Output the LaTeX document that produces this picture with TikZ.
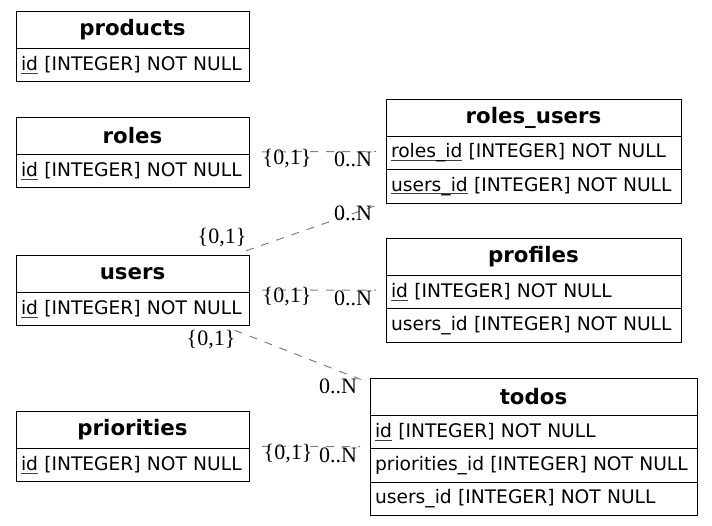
\documentclass[tikz,border=0pt]{standalone}
\usepackage{fontspec}
\setmainfont{DejaVu Sans}
\newfontfamily\cardfont{Liberation Serif}
\usepackage{xcolor}
\usepackage{tikz}
\usetikzlibrary{positioning,fit}

\newcommand{\pk}[1]{\setbox0\hbox{#1}\rlap{\color{darkgray}\rule[-3pt]{\wd0}{0.8pt}}\box0\relax}

\begin{document}
\begin{tikzpicture}[x=1pt,y=-1pt,
  thead/.style={rectangle,draw,font=\fontsize{21.3}{25}\selectfont\bfseries,align=center,minimum height=37pt,inner xsep=5pt,inner ysep=0pt,outer sep=0pt},
  trow/.style={rectangle,draw,font=\fontsize{18.67}{22}\selectfont,align=left,minimum height=33.5pt,inner xsep=5pt,inner ysep=0pt,outer sep=0pt},
  tblw/.style={text width=#1},
  tbl/.style={inner sep=0pt,outer sep=0pt},
  card/.style={font=\cardfont\fontsize{22}{26}\selectfont,inner sep=0pt},
  rel/.style={draw=gray,line width=1pt,dash pattern=on 8pt off 8pt,shorten <=13pt,shorten >=10pt}
]
\useasboundingbox (0,0) rectangle (712,525);

\node[thead, tblw=223pt, anchor=north west] (products-h) at (16,11) {products};
\node[trow, tblw=223pt, below=0pt of products-h] (products-1) {\pk{id} [INTEGER] NOT NULL};
\node[tbl, fit=(products-h)(products-1)] (products) {};

\node[thead, tblw=223pt, anchor=north west] (roles-h) at (16,117) {roles};
\node[trow, tblw=223pt, below=0pt of roles-h] (roles-1) {\pk{id} [INTEGER] NOT NULL};
\node[tbl, fit=(roles-h)(roles-1)] (roles) {};

\node[thead, tblw=223pt, anchor=north west] (users-h) at (16,255) {users};
\node[trow, tblw=223pt, below=0pt of users-h] (users-1) {\pk{id} [INTEGER] NOT NULL};
\node[tbl, fit=(users-h)(users-1)] (users) {};

\node[thead, tblw=223pt, anchor=north west] (priorities-h) at (16,411) {priorities};
\node[trow, tblw=223pt, below=0pt of priorities-h] (priorities-1) {\pk{id} [INTEGER] NOT NULL};
\node[tbl, fit=(priorities-h)(priorities-1)] (priorities) {};

\node[thead, tblw=285pt, anchor=north west] (roles_users-h) at (386,99) {roles\_users};
\node[trow, tblw=285pt, below=0pt of roles_users-h] (roles_users-1) {\pk{roles\_id} [INTEGER] NOT NULL};
\node[trow, tblw=285pt, below=0pt of roles_users-1] (roles_users-2) {\pk{users\_id} [INTEGER] NOT NULL};
\node[tbl, fit=(roles_users-h)(roles_users-2)] (roles_users) {};

\node[thead, tblw=285pt, anchor=north west] (profiles-h) at (386,238) {profiles};
\node[trow, tblw=285pt, below=0pt of profiles-h] (profiles-1) {\pk{id} [INTEGER] NOT NULL};
\node[trow, tblw=285pt, below=0pt of profiles-1] (profiles-2) {users\_id [INTEGER] NOT NULL};
\node[tbl, fit=(profiles-h)(profiles-2)] (profiles) {};

\node[thead, tblw=317pt, anchor=north west] (todos-h) at (370,378) {todos};
\node[trow, tblw=317pt, below=0pt of todos-h] (todos-1) {\pk{id} [INTEGER] NOT NULL};
\node[trow, tblw=317pt, below=0pt of todos-1] (todos-2) {priorities\_id [INTEGER] NOT NULL};
\node[trow, tblw=317pt, below=0pt of todos-2] (todos-3) {users\_id [INTEGER] NOT NULL};
\node[tbl, fit=(todos-h)(todos-3)] (todos) {};

\draw[rel] (roles) -- (roles_users);
\draw[rel] (users) -- (roles_users);
\draw[rel] (users) -- (profiles);
\draw[rel] (users) -- (todos);
\draw[rel] (priorities) -- (todos);

\node[card] (roles-t) at (287,159) {\{0,1\}};
\node[card] (roles_users-r) at (353,159) {0..N};
\node[card] (users-ru) at (222,238) {\{0,1\}};
\node[card] (roles_users-u) at (353,213) {0..N};
\node[card] (users-p) at (287,297) {\{0,1\}};
\node[card] (profiles-u) at (353,298) {0..N};
\node[card] (users-t) at (211,340) {\{0,1\}};
\node[card] (todos-u) at (338,386) {0..N};
\node[card] (priorities-t) at (288,454) {\{0,1\}};
\node[card] (todos-p) at (338,455) {0..N};
\end{tikzpicture}
\end{document}
